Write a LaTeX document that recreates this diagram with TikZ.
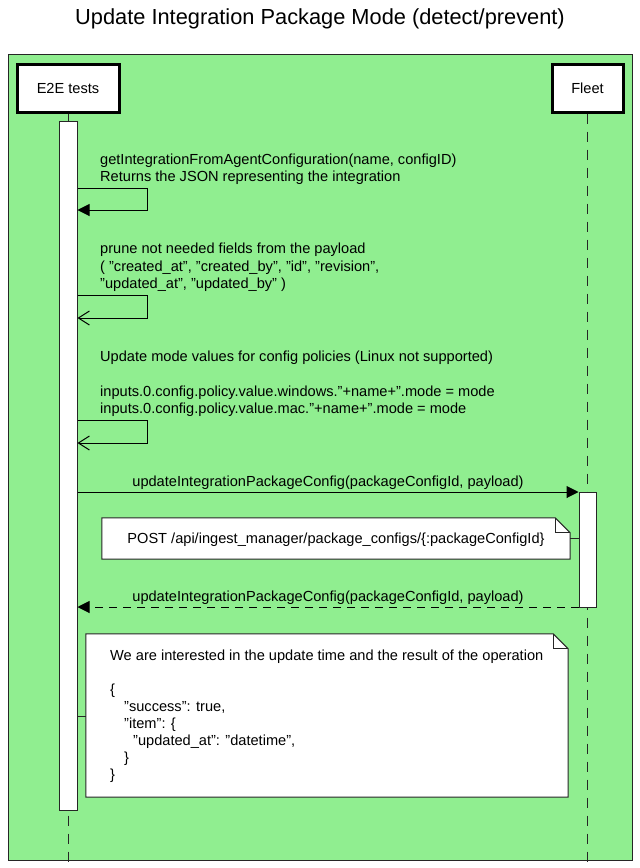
\documentclass[tikz,border=0pt]{standalone}
\usepackage{fontspec}
\setmainfont{Liberation Sans}
\usetikzlibrary{arrows.meta,calc}
\definecolor{framegreen}{HTML}{90EE90}
\newcommand{\myq}{\symbol{34}}
\begin{document}
\begin{tikzpicture}[x=1pt,y=-1pt,
  every node/.style={font=\fontsize{14.6}{17.5}\selectfont},
  frame/.style={draw=black!85,fill=framegreen,line width=1pt},
  actor/.style={draw=black,fill=white,line width=3pt,minimum height=48pt,inner sep=0pt},
  bar/.style={draw=black!85,fill=white,line width=1pt,minimum width=18pt,inner sep=0pt},
  lifeline/.style={draw=black!85,line width=1pt,dash pattern=on 10pt off 8pt},
  msgfill/.style={draw=black,line width=1pt,-{Triangle[length=12pt,width=12pt]}},
  msgopen/.style={draw=black,line width=1pt,-{Straight Barb[length=11pt,width=14pt,line width=1pt]}},
  msgret/.style={draw=black,line width=1pt,dash pattern=on 8pt off 6pt,-{Triangle[length=12pt,width=12pt]}},
  lbl/.style={inner sep=0pt,align=left,anchor=base west},
  mlbl/.style={midway,inner sep=0pt,anchor=base,yshift=6pt},
  notebox/.style={inner sep=0pt,minimum height=0pt},
  noteline/.style={draw=black!85,fill=white,line width=1pt},
  link/.style={draw=black!85,line width=1pt}
]
\useasboundingbox (0,0) rectangle (640,868);
% title
\node[font=\fontsize{21.8}{26}\selectfont] (title) at (320,19) {Update Integration Package Mode (detect/prevent)};
% frame
\draw[frame] (8,54) rectangle (632,860);
% actors
\node[actor,minimum width=102pt] (e2e) at (68,88) {E2E tests};
\node[actor,minimum width=71pt] (fleet) at (587.5,88) {Fleet};
\coordinate (e2eend) at (68,868);
\coordinate (fleetend) at (587.5,868);
\draw[lifeline] (e2e.south) -- (e2eend);
\draw[lifeline] (fleet.south) -- (fleetend);
% activation bars
\node[bar,minimum height=689pt] (bar1) at (68,465.5) {};
\node[bar,minimum width=17pt,minimum height=115pt] (bar2) at (587.5,549.5) {};
% self message 1 (base = last line)
\node[lbl] (l1) at (100,181.5) {getIntegrationFromAgentConfiguration(name, configID)\\Returns the JSON representing the integration};
\coordinate (s1a) at (147,188);
\coordinate (s1b) at (147,210);
\draw[msgfill] (bar1.east |- s1a) -- (s1a) -- (s1b) -- (bar1.east |- s1b);
% self message 2
\node[lbl] (l2) at (100,288.5) {prune not needed fields from the payload\\( \myq created\_at\myq, \myq created\_by\myq, \myq id\myq, \myq revision\myq,\\ \myq updated\_at\myq, \myq updated\_by\myq\ )};
\coordinate (s2a) at (147,295);
\coordinate (s2b) at (147,318);
\draw[msgopen] (bar1.east |- s2a) -- (s2a) -- (s2b) -- (bar1.east |- s2b);
% self message 3
\node[lbl] (l3) at (100,413.5) {Update mode values for config policies (Linux not supported)\\[17.5pt]inputs.0.config.policy.value.windows.\myq+name+\myq.mode = mode\\inputs.0.config.policy.value.mac.\myq+name+\myq.mode = mode};
\coordinate (s3a) at (147,420);
\coordinate (s3b) at (147,443);
\draw[msgopen] (bar1.east |- s3a) -- (s3a) -- (s3b) -- (bar1.east |- s3b);
% call to Fleet
\coordinate (m1) at (0,492);
\draw[msgfill] (bar1.east |- m1) -- node[mlbl] (m1l) {updateIntegrationPackageConfig(packageConfigId, payload)} (bar2.west |- m1);
% note 1
\node[notebox,minimum width=468pt,minimum height=41pt] (n1) at (336,538.5) {};
\draw[noteline] (n1.north west) -- ($(n1.north east)+(-15,0)$) -- ($(n1.north east)+(0,15)$) -- (n1.south east) -- (n1.south west) -- cycle;
\draw[noteline,fill=none] ($(n1.north east)+(-15,0)$) -- ($(n1.north east)+(-15,15)$) -- ($(n1.north east)+(0,15)$);
\node[inner sep=0pt,anchor=base] (n1t) at (336,543.5) {POST /api/ingest\_manager/package\_configs/\{:packageConfigId\}};
\draw[link] (n1.east) -- (bar2.west |- n1.east);
% return
\coordinate (m2) at (0,607);
\draw[msgret] (bar2.west |- m2) -- node[mlbl] (m2l) {updateIntegrationPackageConfig(packageConfigId, payload)} (bar1.east |- m2);
% note 2
\node[notebox,minimum width=482pt,minimum height=163pt] (n2) at (327,715.5) {};
\draw[noteline] (n2.north west) -- ($(n2.north east)+(-15,0)$) -- ($(n2.north east)+(0,15)$) -- (n2.south east) -- (n2.south west) -- cycle;
\draw[noteline,fill=none] ($(n2.north east)+(-15,0)$) -- ($(n2.north east)+(-15,15)$) -- ($(n2.north east)+(0,15)$);
\node[lbl,font=\fontsize{14.6}{17}\selectfont] (n2t) at (110,779.5) {We are interested in the update time and the result of the operation\\[17pt]
\{\\
\hspace*{14pt}\myq success\myq: true,\\
\hspace*{14pt}\myq item\myq: \{\\
\hspace*{23pt}\myq updated\_at\myq: \myq datetime\myq,\\
\hspace*{14pt}\}\\
\}};
\coordinate (n2c) at (0,716);
\draw[link] (bar1.east |- n2c) -- (n2.west |- n2c);
\end{tikzpicture}
\end{document}
